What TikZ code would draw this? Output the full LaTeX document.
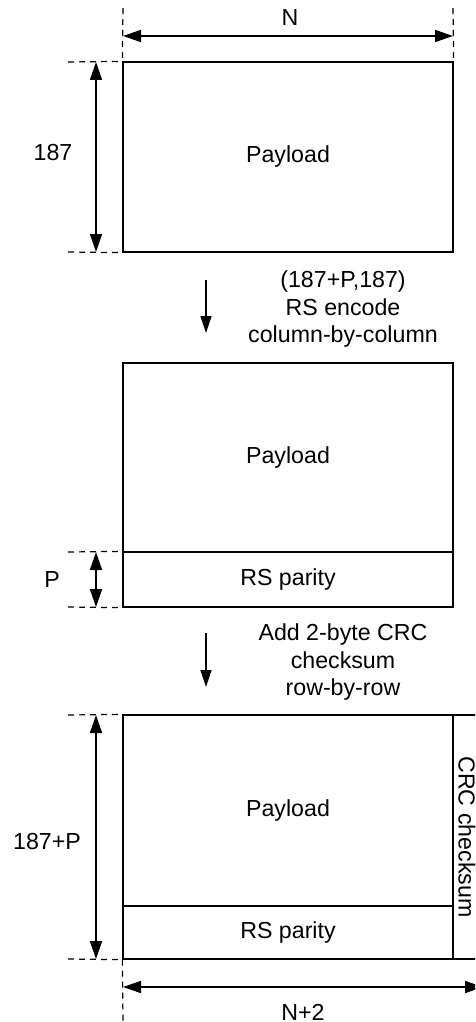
\documentclass[tikz,border=0pt]{standalone}
\usepackage{fontspec}
\setmainfont{Liberation Sans}
\usetikzlibrary{arrows.meta}
\begin{document}
\begin{tikzpicture}[x=1pt,y=-1pt,
  box/.style={draw, line width=1.3pt, inner sep=0pt, font=\fontsize{23.2}{27.5}\selectfont},
  dimline/.style={line width=1.6pt, {Triangle[length=18pt,width=12pt]}-{Triangle[length=18pt,width=12pt]}},
  flow/.style={line width=1.5pt, -{Triangle[length=17pt,width=11pt]}},
  guide/.style={line width=1.2pt, dash pattern=on 6pt off 5pt},
  lbl/.style={font=\fontsize{23.2}{27.5}\selectfont, inner sep=0pt, align=center}]
\useasboundingbox (0,0) rectangle (475,1022);
\clip (0,0) rectangle (475,1022);

% boxes
\node[box, minimum width=330pt, minimum height=190pt] (b1) at (288,157) {Payload};
\node[box, minimum width=330pt, minimum height=189pt] (b2p) at (288,457.5) {Payload};
\node[box, minimum width=330pt, minimum height=55pt] (b2r) at (288,579.5) {RS parity};
\node[box, minimum width=330pt, minimum height=191pt] (b3p) at (288,810.5) {Payload};
\node[box, minimum width=330pt, minimum height=53pt] (b3r) at (288,932.5) {RS parity};
\node[box, minimum width=30pt, minimum height=244pt] (b3c) at (468,837) {};
\node[lbl, rotate=-90] (crc) at (467,837) {CRC checksum};

% top N dimension
\coordinate (g1t) at (123,8);
\coordinate (g2t) at (453,8);
\draw[guide] (g1t) -- (b1.north west);
\draw[guide] (g2t) -- (b1.north east);
\coordinate (nL) at (123,36);
\coordinate (nR) at (453,36);
\draw[dimline] (nL) -- (nR);
\node[lbl] (nlab) at (290,18) {N};

% 187 dimension
\coordinate (h1a) at (68,62);
\coordinate (h1b) at (68,252);
\draw[guide] (h1a) -- (b1.north west);
\draw[guide] (h1b) -- (b1.south west);
\coordinate (d1a) at (96,62);
\coordinate (d1b) at (96,252);
\draw[dimline] (d1a) -- (d1b);
\node[lbl] (l187) at (53,153) {187};

% flow arrow 1
\coordinate (f1a) at (206,280);
\coordinate (f1b) at (206,333);
\draw[flow] (f1a) -- (f1b);
\node[lbl] (t1) at (343,309) {(187+P,187)\\RS encode\\column-by-column};

% P dimension
\coordinate (h2a) at (68,552);
\coordinate (h2b) at (68,607);
\draw[guide] (h2a) -- (b2r.north west);
\draw[guide] (h2b) -- (b2r.south west);
\coordinate (d2a) at (96,552);
\coordinate (d2b) at (96,607);
\draw[dimline] (d2a) -- (d2b);
\node[lbl] (lP) at (52,580) {P};

% flow arrow 2
\coordinate (f2a) at (206,633);
\coordinate (f2b) at (206,687);
\draw[flow] (f2a) -- (f2b);
\node[lbl] (t2) at (343,662) {Add 2-byte CRC\\checksum\\row-by-row};

% 187+P dimension
\coordinate (h3a) at (68,715);
\coordinate (h3b) at (68,959);
\draw[guide] (h3a) -- (b3p.north west);
\draw[guide] (h3b) -- (b3r.south west);
\coordinate (d3a) at (96,715);
\coordinate (d3b) at (96,959);
\draw[dimline] (d3a) -- (d3b);
\node[lbl] (l187P) at (47,842) {187+P};

% N+2 dimension
\coordinate (g3b) at (123,1022);
\draw[guide] (b3r.south west) -- (g3b);
\coordinate (mL) at (123,987);
\coordinate (mR) at (483,987);
\draw[dimline] (mL) -- (mR);
\node[lbl] (lN2) at (303,1012) {N+2};
\end{tikzpicture}
\end{document}
